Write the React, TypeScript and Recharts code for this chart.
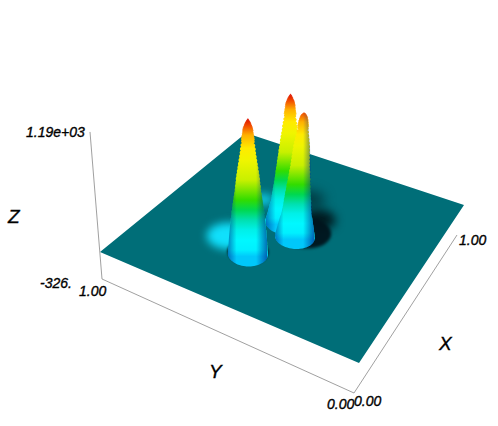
import React from 'react';
import { ComposedChart, XAxis, YAxis, Area, Line, Scatter } from 'recharts';

const W = 498, H = 426;

// ---- data -----------------------------------------------------------------
const zRange = [-326, 1190];
const zLevels = [-34, 0, 34, 68, 102, 136, 170, 204, 238, 272, 306, 340, 374, 408, 442, 476, 510, 544, 578, 612, 646, 680, 714, 748, 782, 816, 850, 884, 918, 952, 986, 1008, 1024, 1040, 1056, 1072, 1088, 1100, 1112, 1124, 1136, 1148, 1160, 1170, 1180, 1190];
const peak1Radius = [.072, .071, .070, .069, .068, .067, .066, .064, .063, .061, .059, .058, .056, .054, .052, .050, .048, .046, .045, .043, .042, .040, .038, .036, .034, .032, .030, .028, .027, .025, .023, .0215, .0205, .0195, .0185, .0175, .017, .016, .015, .0135, .012, .010, .008, .006, .004, .002];
const peak2Radius = [.086, .082, .078, .075, .072, .068, .065, .063, .061, .059, .057, .055, .053, .051, .050, .048, .046, .045, .043, .041, .040, .038, .036, .035, .033, .031, .029, .028, .026, .024, .022, .021, .020, .019, .018, .0175, .017, .016, .015, .0135, .012, .010, .008, .006, .004, .002];
const peak3Radius = [.074, .072, .069, .066, .063, .060, .056, .054, .052, .051, .050, .048, .047, .045, .044, .042, .041, .039, .038, .036, .035, .034, .033, .032, .031, .030, .028, .026, .024, .022, .020, .019, .018, .017, .016, .0145, .013, .011, .008, .004, 0, 0, 0, 0, 0, 0];
const peakCentres = [
  { u: .541, v: .541, du: 0, dv: 0, radius: peak2Radius },
  { u: .474, v: .474, du: .0116, dv: -.0184, radius: peak3Radius },
  { u: .293, v: .569, du: 0, dv: 0, radius: peak1Radius },
];
const craterPatches = [
  { u: .60, v: .44, r: .065, z: 0, color: '#000c10', blur: 5, opacity: .85 },
  { u: .70, v: .53, r: .06, z: 0, color: '#00262c', blur: 6, opacity: .7 },
  { u: .326, v: .671, r: .08, z: 0, color: '#10e0fc', blur: 4, opacity: 1 },
  { u: .598, v: .68, r: .04, z: 0, color: '#10d4f0', blur: 4, opacity: .9 },
  { u: .293, v: .569, r: .074, z: -15, color: '#00141c', blur: 1, opacity: .95 },
  { u: .499, v: .447, r: .098, z: 0, color: '#00141c', blur: 1.5, opacity: .95 },
];
const rampZ = [-60, 0, 90, 182, 272, 363, 455, 636, 818, 927, 1045, 1136, 1190];
const rampColors = ['#00c8fa', '#00f0ff', '#00f8ff', '#00f0e8', '#00e0b0', '#00d850', '#32dc00', '#c8f000', '#f0f500', '#ffeb00', '#ffb000', '#f04600', '#dc1400'];
const tickTexts = ['1.19e+03', '-326.', '1.00', '0.00', '0.00', '1.00'];
const axisTitles = ['Z', 'Y', 'X'];

// ---- layout ---------------------------------------------------------------
const planeCorners = [[359, 363], [464, 205], [246, 133], [100, 252]];
const floorCorners = [[354, 393], [457, 235], [243, 165], [102, 279]];
const tickAnchors = [[26, 137], [40, 288], [79, 296], [327, 409], [354, 406], [459, 245]];
const titleAnchors = [[8, 223], [209, 378], [439, 350]];

const homography = (c: number[][]) => {
  const [p0, p1, p2, p3] = c;
  const sx = p0[0] - p1[0] + p2[0] - p3[0], sy = p0[1] - p1[1] + p2[1] - p3[1];
  const dx1 = p1[0] - p2[0], dx2 = p3[0] - p2[0], dy1 = p1[1] - p2[1], dy2 = p3[1] - p2[1];
  const det = dx1 * dy2 - dx2 * dy1;
  const g = (sx * dy2 - dx2 * sy) / det, h = (dx1 * sy - sx * dy1) / det;
  return (u: number, v: number) => {
    const w = g * u + h * v + 1;
    return [
      ((p1[0] - p0[0] + g * p1[0]) * u + (p3[0] - p0[0] + h * p3[0]) * v + p0[0]) / w,
      ((p1[1] - p0[1] + g * p1[1]) * u + (p3[1] - p0[1] + h * p3[1]) * v + p0[1]) / w,
      w,
    ];
  };
};
const planeH = homography(planeCorners);
const floorH = homography(floorCorners);
const lifted = (p: number[], L: number) => ({ x: p[0] + (p[0] - 249) * 0.000555 * L, y: p[1] - L });
const project = (u: number, v: number, z: number) => {
  const p = planeH(u, v);
  return lifted(p, z * 0.11 * (1.17 / p[2]));
};
const projectBox = (u: number, v: number, z: number) => lifted(floorH(u, v), (z - zRange[0]) * 0.097);

// turn a closed outline into [low, high] spans over x for a ranged Area
const spans = (poly: { x: number; y: number }[]) => {
  const xs = Array.from(new Set(poly.map(p => p.x))).sort((a, b) => a - b);
  return xs.map(x => {
    const ys: number[] = [];
    poly.forEach((a, i) => {
      const b = poly[(i + 1) % poly.length];
      if ((a.x <= x && b.x >= x) || (b.x <= x && a.x >= x)) {
        ys.push(a.x === b.x ? a.y : a.y + ((x - a.x) / (b.x - a.x)) * (b.y - a.y));
      }
    });
    return { x, range: [Math.min(...ys), Math.max(...ys)] };
  });
};
const ringOutline = (u: number, v: number, r: number, z: number) => {
  const out = [];
  for (let i = 0; i < 28; i++) {
    const t = (i / 28) * Math.PI * 2;
    out.push(project(u + r * Math.cos(t), v + r * Math.sin(t), z));
  }
  return out;
};
const ring = (u: number, v: number, r: number, z: number) => spans(ringOutline(u, v, r, z));

const peakRings = peakCentres.map(pk => zLevels.map((z, i) => {
  const f = z / zRange[1];
  return pk.radius[i] > 0 ? { z, i, spans: ring(pk.u + pk.du * f, pk.v + pk.dv * f, pk.radius[i], z) } : null;
}).filter(Boolean) as { z: number; i: number; spans: { x: number; range: number[] }[] }[]);

// outer silhouette of all rings of a peak, used only to lay the side shading
const silhouette = (rings: { spans: { x: number; range: number[] }[] }[]) => {
  const xs = rings.flatMap(r => r.spans.map(s => s.x));
  const x0 = Math.ceil(Math.min(...xs)), x1 = Math.floor(Math.max(...xs));
  const out = [];
  for (let x = x0; x <= x1; x++) {
    let lo = Infinity, hi = -Infinity;
    rings.forEach(r => {
      const s = r.spans;
      for (let k = 0; k + 1 < s.length; k++) {
        if (s[k].x <= x && s[k + 1].x >= x) {
          const f = (x - s[k].x) / Math.max(1e-6, s[k + 1].x - s[k].x);
          lo = Math.min(lo, s[k].range[0] + f * (s[k + 1].range[0] - s[k].range[0]));
          hi = Math.max(hi, s[k].range[1] + f * (s[k + 1].range[1] - s[k].range[1]));
          break;
        }
      }
    });
    if (lo < Infinity) out.push({ x, range: [lo, hi] });
  }
  return out;
};

const planeSpans = spans(planeCorners.map((_, i) => {
  const uv = [[0, 0], [1, 0], [1, 1], [0, 1]][i];
  const p = planeH(uv[0], uv[1]);
  return { x: p[0], y: p[1] };
}));
const yAxisLine = [projectBox(0, 1, zRange[0]), projectBox(0, 0, zRange[0])];
const xAxisLine = [projectBox(0, 0, zRange[0]), projectBox(1, 0, zRange[0])];
const zAxisLine = [projectBox(0, 1, zRange[0]), projectBox(0, 1, zRange[1])];
const labels = [
  ...tickTexts.map((text, i) => ({ text, x: tickAnchors[i][0], y: tickAnchors[i][1], size: 14 })),
  ...axisTitles.map((text, i) => ({ text, x: titleAnchors[i][0], y: titleAnchors[i][1], size: 19 })),
];

const axisStyle = { stroke: '#888', strokeWidth: .8, dot: false, isAnimationActive: false, type: 'linear' as const, dataKey: 'y' };

export default function App() {
  return (
    <div style={{ position: 'absolute', left: 0, top: 0, width: W, height: H, background: '#fff' }}>
      <ComposedChart width={W} height={H} margin={{ top: 0, right: 0, bottom: 0, left: 0 }} data={[]}>
        <defs>
          {peakCentres.map((pk, j) => {
            const yTop = project(pk.u, pk.v, zRange[1]).y;
            const yBot = project(pk.u, pk.v, rampZ[0]).y + 8;
            return (
              <linearGradient key={j} id={`peak${j}`} gradientUnits="userSpaceOnUse" x1="0" x2="0" y1={yTop} y2={yBot}>
                {rampZ.map((z, k) => (
                  <stop key={k} offset={(project(pk.u, pk.v, z).y - yTop) / (yBot - yTop)} stopColor={rampColors[k]} />
                )).reverse()}
              </linearGradient>
            );
          })}
          <linearGradient id="sideShade" x1="0" y1="0" x2="1" y2="0">
            <stop offset="0" stopColor="#002a90" stopOpacity=".55" />
            <stop offset=".22" stopColor="#002a90" stopOpacity="0" />
            <stop offset=".72" stopColor="#002a90" stopOpacity="0" />
            <stop offset="1" stopColor="#002a90" stopOpacity=".65" />
          </linearGradient>
        </defs>
        <XAxis type="number" dataKey="x" domain={[0, W]} hide allowDataOverflow />
        <YAxis type="number" dataKey="y" domain={[0, H]} reversed hide allowDataOverflow />
        <Line {...axisStyle} data={yAxisLine} />
        <Line {...axisStyle} data={xAxisLine} />
        <Line {...axisStyle} data={zAxisLine} />
        <Area data={planeSpans} dataKey="range" type="linear" stroke="none" fill="#006e78" fillOpacity={1} dot={false} activeDot={false} isAnimationActive={false} />
        {craterPatches.map((p, i) => (
          <Area key={`c${i}`} data={ring(p.u, p.v, p.r, p.z)} dataKey="range" type="linear" stroke="none" fill={p.color} fillOpacity={p.opacity} style={{ filter: `blur(${p.blur}px)` }} dot={false} activeDot={false} isAnimationActive={false} />
        ))}
        {peakRings.flatMap((rings, j) => [
          ...rings.map(r => (
            <Area key={`p${j}-${r.i}`} data={r.spans} dataKey="range" type="linear" stroke={r.z >= 1000 ? `url(#peak${j})` : 'none'} strokeWidth={1} fill={`url(#peak${j})`} fillOpacity={1} dot={false} activeDot={false} isAnimationActive={false} />
          )),
          <Area key={`s${j}`} data={silhouette(rings)} dataKey="range" type="linear" stroke="none" fill="url(#sideShade)" fillOpacity={1} dot={false} activeDot={false} isAnimationActive={false} />,
        ])}
        <Scatter data={labels} isAnimationActive={false} shape={(p: any) => (
          <text x={p.cx} y={p.cy} fontFamily="Liberation Sans" fontStyle="italic" fontSize={p.payload.size} stroke="#000" strokeWidth={.35} fill="#000">{p.payload.text}</text>
        )} />
      </ComposedChart>
    </div>
  );
}
